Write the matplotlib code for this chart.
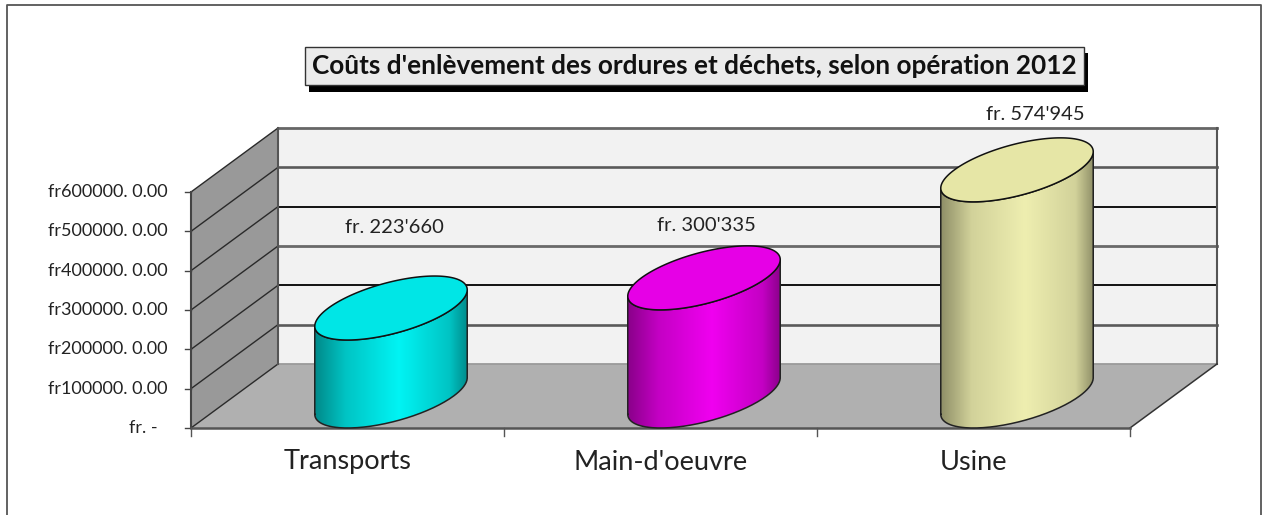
import numpy as np
import matplotlib
matplotlib.use("Agg")
import matplotlib.pyplot as plt
from matplotlib.colors import LinearSegmentedColormap
from matplotlib.patches import Polygon, Rectangle, PathPatch
from matplotlib.path import Path

plt.rcParams["font.family"] = ["Lato", "DejaVu Sans"]

categories = ["Transports", "Main-d'oeuvre", "Usine"]
values = [223660, 300335, 574945]
value_labels = ["fr. 223'660", "fr. 300'335", "fr. 574'945"]
tick_values = [0, 100000, 200000, 300000, 400000, 500000, 600000]
tick_labels = ["fr. -", "fr100000. 0.00", "fr200000. 0.00", "fr300000. 0.00",
               "fr400000. 0.00", "fr500000. 0.00", "fr600000. 0.00"]
title = "Coûts d'enlèvement des ordures et déchets, selon opération 2012"

# back wall line colours, bottom to top (the source image is resampled, so they differ)
grid_colors = ["#9a9a9a", "#5a5a5a", "#111111", "#6a6a6a", "#111111", "#5a5a5a", "#666666"]
grid_widths = [1.3, 1.9, 1.4, 2.0, 1.4, 1.9, 2.0]

# edge, shoulder, middle, lid
bar_colors = [("#008a8a", "#00c4c4", "#00f4f4", "#00e6e6"),
              ("#8a008a", "#c400c4", "#f000f0", "#e600e6"),
              ("#8f8f68", "#d2d29a", "#eeeeb0", "#e6e6a6")]

# data labels were moved by hand in the source, offsets in pixels
label_dx = [3, 2, 18]
label_dy = [49, 20, 23]

W, H = 1264, 515
fig = plt.figure(figsize=(W / 100, H / 100), dpi=100)
fig.patch.set_facecolor("white")

# full-figure layer for the frame and the title box (pixels)
bg = fig.add_axes([0, 0, 1, 1])
bg.set_xlim(0, W)
bg.set_ylim(H, 0)
bg.axis("off")
bg.plot([6.5, 6.5, 1261, 1261], [H, 5, 5, H], color="#555555", lw=1.3)

# front plane of the chart: 3 categories wide, 0..600000 high
ax = fig.add_axes([191 / W, 1 - 428 / H, (1130 - 191) / W, (428 - 192) / H])
ax.set_xlim(-0.5, 2.5)
ax.set_ylim(0, 600000)
ax.axis("off")

px_x = 3 / (1130 - 191)
px_y = 600000 / (428 - 192)

# the 3d depth, in data units
DX = 87 * px_x
DY = 64 * px_y
BAR_WIDTH = 0.4


def clip_free(patch):
    patch.set_clip_on(False)
    ax.add_patch(patch)
    return patch


x0, x1 = -0.5, 2.5
top = tick_values[-1]
clip_free(Polygon([(x0, 0), (x0 + DX, DY), (x0 + DX, top + DY), (x0, top)],
                  fc="#999999", ec="none", zorder=1))
clip_free(Rectangle((x0 + DX, DY), x1 - x0, top, fc="#f2f2f2", ec="none", zorder=1))
clip_free(Polygon([(x0, 0), (x1, 0), (x1 + DX, DY), (x0 + DX, DY)],
                  fc="#b0b0b0", ec="none", zorder=2))

for v, c, lw in zip(tick_values, grid_colors, grid_widths):
    ax.plot([x0 + DX, x1 + DX], [v + DY, v + DY], color=c, lw=lw, clip_on=False, zorder=3)
    ax.plot([x0, x0 + DX], [v, v + DY], color="#2a2a2a", lw=1.0, clip_on=False, zorder=3)

# outline of walls and floor
ax.plot([x0 + DX, x0 + DX], [DY, top + DY], color="#555555", lw=1.5, clip_on=False, zorder=3)
ax.plot([x1 + DX, x1 + DX], [DY, top + DY], color="#555555", lw=1.5, clip_on=False, zorder=3)
ax.plot([x0, x0], [0, top], color="#444444", lw=1.5, clip_on=False, zorder=3)
ax.plot([x1, x1 + DX], [0, DY], color="#333333", lw=1.1, clip_on=False, zorder=3)
ax.plot([x0, x1], [0, 0], color="#555555", lw=1.8, clip_on=False, zorder=3)

# ticks
for v in tick_values:
    ax.plot([x0 - 6 * px_x, x0], [v, v], color="#444444", lw=1.0, clip_on=False, zorder=3)
for tx in [-0.5, 0.5, 1.5, 2.5]:
    ax.plot([tx, tx], [0, -8 * px_y], color="#555555", lw=1.0, clip_on=False, zorder=3)

for v, lab in zip(tick_values, tick_labels):
    gap = 33 if v == 0 else 23
    ax.text(x0 - gap * px_x, v, lab, ha="right", va="center", fontsize=13,
            color="#222222", clip_on=False)

for i, cat in enumerate(categories):
    ax.text(i, -34 * px_y, cat, ha="center", va="center", fontsize=19.5,
            color="#222222", clip_on=False)

# cylinders
t = np.linspace(0, 2 * np.pi, 200)
a = BAR_WIDTH * 0.5
half = np.hypot(a, DX / 2)
t_r = np.arctan2(DX / 2, a)
ts = np.linspace(t_r, t_r - np.pi, 100)
for i, v in enumerate(values):
    edge, shoulder, mid, lid = bar_colors[i]
    cx = i + DX / 2
    ex = cx + a * np.cos(t) + DX / 2 * np.sin(t)
    ey = DY / 2 * np.sin(t)

    # side: front half of the base, then front half of the lid coming back
    low_x = cx + a * np.cos(ts) + DX / 2 * np.sin(ts)
    low_y = DY / 2 * np.sin(ts) + DY / 2
    side_x = np.r_[low_x[::-1], low_x]
    side_y = np.r_[low_y[::-1], low_y + v]

    cmap = LinearSegmentedColormap.from_list(
        "side", [(0, edge), (0.2, shoulder), (0.55, mid), (0.88, shoulder), (1, edge)], 256)
    grad = np.linspace(0, 1, 256)[None, :]
    im = ax.imshow(grad, cmap=cmap, extent=[cx - half, cx + half, 0, v + DY],
                   aspect="auto", zorder=4, interpolation="bilinear")
    im.set_clip_box(fig.bbox)
    im.set_clip_path(PathPatch(Path(np.c_[side_x, side_y]), transform=ax.transData))
    ax.plot(np.r_[side_x, side_x[0]], np.r_[side_y, side_y[0]], color="#222222", lw=1.1,
            clip_on=False, zorder=5)

    clip_free(Polygon(np.c_[ex, ey + DY / 2 + v], fc=lid, ec="#111111", lw=1.1, zorder=6))

    ax.text(cx + label_dx[i] * px_x, v + DY + label_dy[i] * px_y, value_labels[i],
            ha="center", va="center", fontsize=14.5, color="#222222", clip_on=False, zorder=7)

ax.set_xlim(-0.5, 2.5)
ax.set_ylim(0, 600000)

# title box with its shadow
bg.add_patch(Rectangle((309, 53), 779, 39, fc="black", ec="none"))
bg.add_patch(Rectangle((305, 47), 779, 38, fc="#ebebeb", ec="#333333", lw=1.0))
bg.text(694.5, 66, title, ha="center", va="center", fontsize=18.8, fontweight="bold",
        color="#111111")

fig.savefig("out.png", dpi=100)
